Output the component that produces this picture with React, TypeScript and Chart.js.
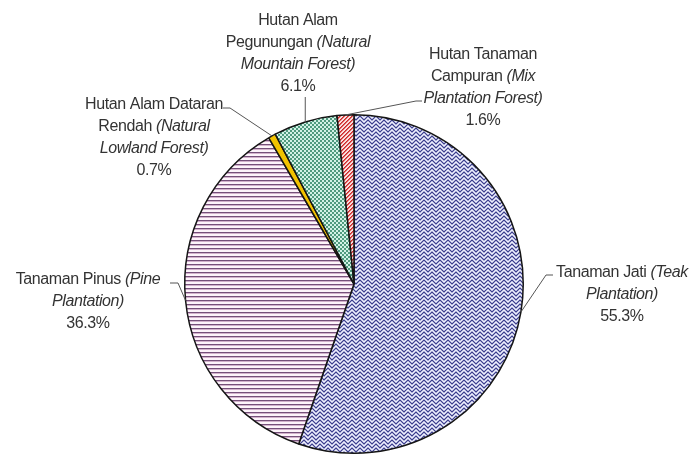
import React, { useEffect, useRef } from "react";
import { Chart, registerables } from "chart.js";

Chart.register(...registerables);

const categories = [
  "Tanaman Jati (Teak Plantation)",
  "Tanaman Pinus (Pine Plantation)",
  "Hutan Alam Dataran Rendah (Natural Lowland Forest)",
  "Hutan Alam Pegunungan (Natural Mountain Forest)",
  "Hutan Tanaman Campuran (Mix Plantation Forest)",
];
const shares = [55.3, 36.3, 0.7, 6.1, 1.6];
const percentLabels = ["55.3%", "36.3%", "0.7%", "6.1%", "1.6%"];

// label text lines: [text, italic]
type Seg = [string, boolean];
const labelLines: Seg[][][] = [
  [[["Tanaman Jati ", false], ["(Teak", true]], [["Plantation)", true]]],
  [[["Tanaman Pinus ", false], ["(Pine", true]], [["Plantation)", true]]],
  [[["Hutan Alam Dataran", false]], [["Rendah ", false], ["(Natural", true]], [["Lowland Forest)", true]]],
  [[["Hutan Alam", false]], [["Pegunungan ", false], ["(Natural", true]], [["Mountain Forest)", true]]],
  [[["Hutan Tanaman", false]], [["Campuran ", false], ["(Mix", true]], [["Plantation Forest)", true]]],
];

// layout of labels (positions only)
const labelLayout = [
  { cx: 622, y: 273, elbow: [546, 275], end: [553, 275] },
  { cx: 88, y: 280, elbow: [178, 283], end: [170, 283] },
  { cx: 154, y: 105, elbow: [230, 108], end: [223, 108] },
  { cx: 298, y: 21, elbow: null as null | number[], end: null as null | number[], vertTo: 97 },
  { cx: 483, y: 55, elbow: [416, 101], end: [422, 101] },
];

function makePattern(w: number, h: number, draw: (c: CanvasRenderingContext2D) => void) {
  const cv = document.createElement("canvas");
  cv.width = w;
  cv.height = h;
  const c = cv.getContext("2d")!;
  draw(c);
  return c.createPattern(cv, "repeat")!;
}

function px(c: CanvasRenderingContext2D, x: number, y: number, col: string, w = 1, h = 1) {
  c.fillStyle = col;
  c.fillRect(x, y, w, h);
}

function buildPatterns() {
  const teak = makePattern(8, 8, (c) => {
    px(c, 0, 0, "#aeb0d6", 8, 8);
    for (let x = 0; x < 8; x++) {
      const y = x < 4 ? x : 7 - x;
      px(c, x, y, "#3c3e8e");
      px(c, x, (y + 4) % 8, "#3c3e8e");
      px(c, x, (y + 2) % 8, "#eef0ff");
      px(c, x, (y + 6) % 8, "#eef0ff");
    }
  });
  const pine = makePattern(4, 4, (c) => {
    px(c, 0, 0, "#fdf4fa", 4, 4);
    px(c, 0, 0, "#75507a", 4, 1);
    px(c, 0, 1, "#d2b2cc", 4, 1);
  });
  const lowland = "#f2c200";
  const mountain = makePattern(4, 4, (c) => {
    px(c, 0, 0, "#d2f2e6", 4, 4);
    px(c, 0, 0, "#4f9a7e", 2, 2);
    px(c, 2, 2, "#4f9a7e", 2, 2);
  });
  const mix = makePattern(4, 4, (c) => {
    px(c, 0, 0, "#f9dede", 4, 4);
    for (let i = 0; i < 4; i++) {
      px(c, i, (3 - i + 4) % 4, "#cc2a2a");
      px(c, i, (4 - i + 4) % 4, "#e06060");
    }
  });
  return [teak, pine, lowland, mountain, mix];
}

const labelPlugin = {
  id: "sliceLabels",
  afterDraw(chart: any) {
    const ctx: CanvasRenderingContext2D = chart.ctx;
    const meta = chart.getDatasetMeta(0);
    ctx.save();
    meta.data.forEach((arc: any, i: number) => {
      const { x, y, startAngle, endAngle, outerRadius } = arc.getProps(
        ["x", "y", "startAngle", "endAngle", "outerRadius"],
        true
      );
      const mid = (startAngle + endAngle) / 2;
      const ax = x + Math.cos(mid) * outerRadius;
      const ay = y + Math.sin(mid) * outerRadius;
      const L = labelLayout[i];
      ctx.strokeStyle = "#555";
      ctx.lineWidth = 1;
      ctx.beginPath();
      ctx.moveTo(ax, ay);
      if (L.elbow && L.end) {
        ctx.lineTo(L.elbow[0], L.elbow[1]);
        ctx.lineTo(L.end[0], L.end[1]);
      } else {
        ctx.lineTo(ax, (L as any).vertTo);
      }
      ctx.stroke();

      const lines = [...labelLines[i], [[percentLabels[i], false] as Seg]];
      ctx.fillStyle = "#333";
      ctx.textBaseline = "middle";
      ctx.textAlign = "left";
      (ctx as any).letterSpacing = "-0.4px";
      lines.forEach((segs, li) => {
        const fonts = segs.map(([, it]) => (it ? "italic " : "") + "16px 'Liberation Sans', Arial, sans-serif");
        let total = 0;
        const widths = segs.map(([t], k) => {
          ctx.font = fonts[k];
          const w = ctx.measureText(t).width;
          total += w;
          return w;
        });
        let cx = L.cx - total / 2;
        const ly = L.y + li * 22;
        segs.forEach(([t], k) => {
          ctx.font = fonts[k];
          ctx.fillText(t, cx, ly);
          cx += widths[k];
        });
      });
    });
    ctx.restore();
  },
};

export default function App() {
  const ref = useRef<HTMLCanvasElement>(null);
  useEffect(() => {
    if (!ref.current) return;
    const chart = new Chart(ref.current, {
      type: "pie",
      data: {
        labels: categories,
        datasets: [
          {
            data: shares,
            backgroundColor: buildPatterns() as any,
            borderColor: "#151515",
            borderWidth: 1.5,
          },
        ],
      },
      options: {
        animation: false,
        responsive: true,
        maintainAspectRatio: false,
        layout: { padding: { top: 114, bottom: 2, left: 184, right: 165 } },
        plugins: { legend: { display: false }, tooltip: { enabled: false } },
      },
      plugins: [labelPlugin],
    });
    return () => chart.destroy();
  }, []);
  return (
    <div style={{ position: "fixed", left: 0, top: 0, width: 689, height: 456, background: "#fff" }}>
      <canvas ref={ref} />
    </div>
  );
}
